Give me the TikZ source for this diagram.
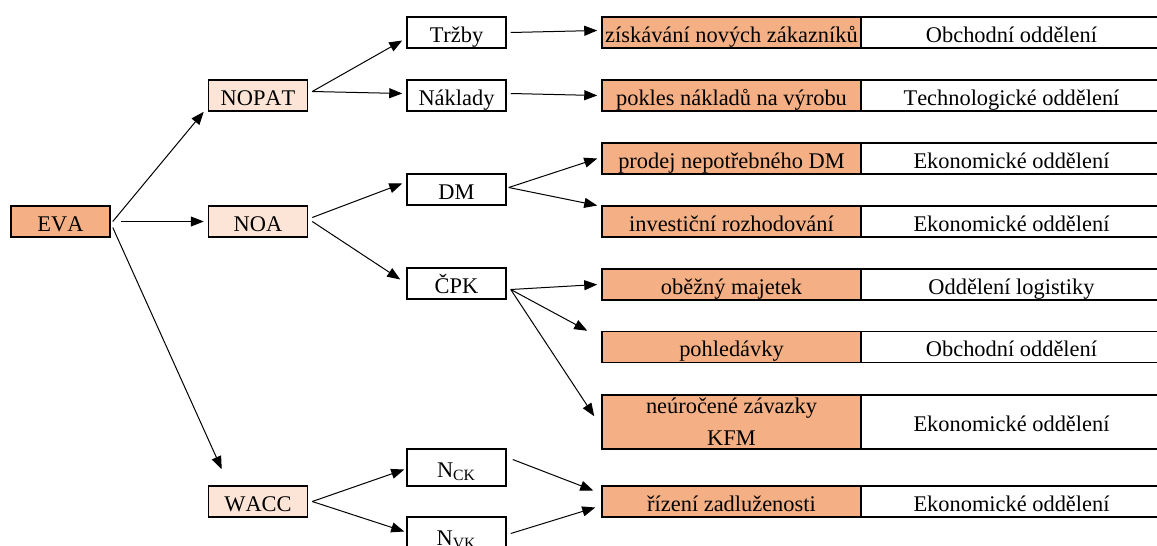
\documentclass[tikz,border=0pt]{standalone}
\usepackage{fontspec}
\setmainfont[Kerning=Off]{Liberation Serif}
\usetikzlibrary{arrows.meta}
\definecolor{evaorange}{RGB}{244,176,132}
\definecolor{evalight}{RGB}{252,228,214}
\begin{document}
\begin{tikzpicture}
			[x=0.5pt,y=-0.5pt,
			box/.style={rectangle,draw=black,line width=0.75pt,inner sep=0pt,minimum width=49.5pt,minimum height=15.5pt,text height=11pt,text depth=1.5pt,font=\fontsize{11.2}{16}\selectfont},
			top/.style={box,fill=evaorange},
			mid/.style={box,fill=evalight},
			leaf/.style={box,fill=white},
			task/.style={box,fill=evaorange,minimum width=129.5pt,align=center},
			dept/.style={box,fill=white,minimum width=150.5pt},
			arr/.style={-{Triangle[length=6.5pt,width=5pt]},line width=0.5pt}
			]
			\useasboundingbox (0,0) rectangle (1157,546);

			\node[top] (eva) at (60.5,221.5) {EVA};
			\node[mid] (nopat) at (258,95.5) {NOPAT};
			\node[mid] (noa) at (258,221.5) {NOA};
			\node[mid] (wacc) at (258,501.5) {WACC};

			\node[leaf] (trzby) at (456.5,32.5) {Tržby};
			\node[leaf] (naklady) at (456.5,95.5) {Náklady};
			\node[leaf] (dm) at (456.5,189.5) {DM};
			\node[leaf] (cpk) at (456.5,283.5) {ČPK};
			\node[leaf,minimum height=18.5pt] (nck) at (456.5,467.5) {N\textsubscript{CK}};
			\node[leaf,minimum height=18.5pt] (nvk) at (456.5,535.5) {N\textsubscript{VK}};

			\node[task] (ziskavani) at (731.5,32.5) {získávání nových zákazníků};
			\node[task] (pokles) at (731.5,95.5) {pokles nákladů na výrobu};
			\node[task] (prodej) at (731.5,158.5) {prodej nepotřebného DM};
			\node[task] (investicni) at (731.5,221.5) {investiční rozhodování};
			\node[task] (obezny) at (731.5,284.5) {oběžný majetek};
			\node[task] (pohledavky) at (731.5,347) {pohledávky};
			\node[task,minimum height=27pt,text height={},text depth={}] (neurocene) at (731.5,422) {neúročené závazky\\KFM};
			\node[task] (rizeni) at (731.5,501.5) {řízení zadluženosti};

			\node[dept] (obchodni1) at (1011.5,32.5) {Obchodní oddělení};
			\node[dept] (technologicke) at (1011.5,95.5) {Technologické oddělení};
			\node[dept] (ekonomicke1) at (1011.5,158.5) {Ekonomické oddělení};
			\node[dept] (ekonomicke2) at (1011.5,221.5) {Ekonomické oddělení};
			\node[dept] (logistika) at (1011.5,284.5) {Oddělení logistiky};
			\node[dept] (obchodni2) at (1011.5,347) {Obchodní oddělení};
			\node[dept,minimum height=27pt] (ekonomicke3) at (1011.5,422) {Ekonomické oddělení};
			\node[dept] (ekonomicke4) at (1011.5,501.5) {Ekonomické oddělení};

			\draw[arr] ([xshift=1pt]eva.east) -- ([xshift=-2pt]nopat.south west);
			\draw[arr] ([xshift=5pt]eva.east) -- ([xshift=-2pt]noa.west);
			\draw[arr] ([xshift=1pt,yshift=-3pt]eva.east) -- ([xshift=7pt,yshift=8pt]wacc.north west);

			\draw[arr] ([xshift=2pt,yshift=2pt]nopat.east) -- ([xshift=-2pt,yshift=-4pt]trzby.west);
			\draw[arr] ([xshift=2pt,yshift=2pt]nopat.east) -- ([xshift=-2pt,yshift=1pt]naklady.west);
			\draw[arr] ([xshift=2pt,yshift=2pt]noa.east) -- ([xshift=-2pt,yshift=3pt]dm.west);
			\draw[arr] ([xshift=2pt]noa.east) -- ([xshift=-3pt,yshift=2pt]cpk.west);
			\draw[arr] ([xshift=2pt]wacc.east) -- ([xshift=-1pt,yshift=-1pt]nck.west);
			\draw[arr] ([xshift=2pt]wacc.east) -- ([xshift=-1pt,yshift=2pt]nvk.west);

			\draw[arr] ([xshift=2pt]trzby.east) -- ([xshift=-2pt,yshift=1pt]ziskavani.west);
			\draw[arr] ([xshift=2pt,yshift=1pt]naklady.east) -- ([xshift=-2pt]pokles.west);
			\draw[arr] ([xshift=1pt,yshift=1pt]dm.east) -- ([xshift=-2pt]prodej.west);
			\draw[arr] ([xshift=1pt,yshift=1pt]dm.east) -- ([xshift=-2pt,yshift=8pt]investicni.west);
			\draw[arr] ([xshift=2pt,yshift=-3pt]cpk.east) -- ([xshift=-2pt]obezny.west);
			\draw[arr] ([xshift=2pt,yshift=-3pt]cpk.east) -- ([xshift=-7pt]pohledavky.north west);
			\draw[arr] ([xshift=2pt,yshift=-3pt]cpk.east) -- ([xshift=-3.5pt,yshift=-11pt]neurocene.north west);
			\draw[arr] ([xshift=3pt,yshift=4pt]nck.east) -- ([xshift=-4pt,yshift=5.5pt]rizeni.west);
			\draw[arr] ([xshift=2pt,yshift=1pt]nvk.east) -- ([xshift=-3pt,yshift=-3pt]rizeni.west);
		\end{tikzpicture}
\end{document}
